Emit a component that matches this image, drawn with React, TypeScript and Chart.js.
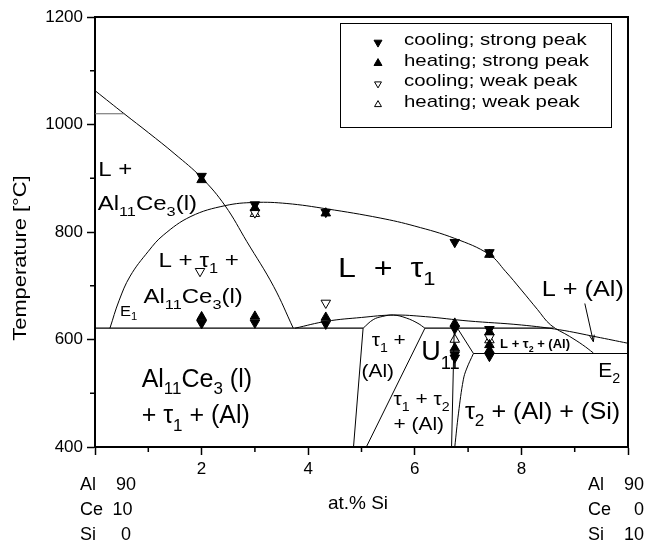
import React, { useEffect, useRef } from "react";
import { Chart, registerables } from "chart.js";

Chart.register(...registerables);

const FONT = '"Liberation Sans", Arial, Helvetica, sans-serif';

// ---------- axes ----------
const xMin = 0;
const xMax = 10;
const yMin = 400;
const yMax = 1200;
const xMajorTicks = [0, 2, 4, 6, 8, 10];
const xTickLabels = [2, 4, 6, 8];
const xMinorTicks = [1, 3, 5, 7, 9];
const yMajorTicks = [400, 600, 800, 1000, 1200];
const yMinorTicks = [500, 700, 900, 1100];

type P = { x: number; y: number };

// ---------- phase boundaries (x = at.% Si, y = T in °C) ----------
const al11ce3Liquidus: P[] = [
  { x: 0, y: 1063 }, { x: 0.56, y: 1019 }, { x: 1.0, y: 985 }, { x: 1.5, y: 945 },
  { x: 2.0, y: 901 }, { x: 2.44, y: 849 }, { x: 2.85, y: 782 }, { x: 3.35, y: 699 },
  { x: 3.72, y: 621 },
];
const upperInvariant: P[] = [{ x: 0, y: 1020 }, { x: 0.56, y: 1020 }];
const tau1Liquidus: P[] = [
  { x: 0.28, y: 621 }, { x: 0.45, y: 672 }, { x: 0.66, y: 718 }, { x: 1.0, y: 764 },
  { x: 1.28, y: 794 }, { x: 1.8, y: 829 }, { x: 2.44, y: 849 }, { x: 3.0, y: 855 },
  { x: 3.6, y: 853 }, { x: 4.35, y: 843 }, { x: 5.35, y: 826 }, { x: 6.0, y: 811 },
  { x: 6.75, y: 788 }, { x: 7.4, y: 758 }, { x: 7.7, y: 727 }, { x: 8.0, y: 692 },
  { x: 8.3, y: 656 }, { x: 8.55, y: 627 }, { x: 8.9, y: 606 }, { x: 9.15, y: 590 },
  { x: 9.35, y: 575 },
];
const e1Line: P[] = [{ x: 0, y: 621 }, { x: 5.03, y: 621 }];
const alLiquidus: P[] = [
  { x: 3.75, y: 621 }, { x: 4.35, y: 634 }, { x: 5.0, y: 641 }, { x: 5.6, y: 645.5 },
  { x: 6.2, y: 642.5 }, { x: 7.0, y: 634.5 }, { x: 8.0, y: 627 }, { x: 8.72, y: 618 },
  { x: 9.4, y: 605 }, { x: 10, y: 593 },
];
const tau1AlArc: P[] = [
  { x: 5.03, y: 621 }, { x: 5.22, y: 637 }, { x: 5.4, y: 643 }, { x: 5.6, y: 645.5 },
  { x: 5.84, y: 640 }, { x: 6.06, y: 630 }, { x: 6.19, y: 621 },
];
const tau1AlLeft: P[] = [{ x: 5.03, y: 621 }, { x: 4.85, y: 400 }];
const tau1AlRight: P[] = [{ x: 6.19, y: 621 }, { x: 5.09, y: 400 }];
const u11Line: P[] = [{ x: 6.19, y: 621 }, { x: 8.6, y: 621 }];
const tau2Vertical: P[] = [{ x: 6.74, y: 621 }, { x: 6.69, y: 400 }];
const tau2Diagonal: P[] = [{ x: 6.8, y: 621 }, { x: 7.1, y: 574 }];
const tau2Solvus: P[] = [
  { x: 7.1, y: 574 }, { x: 6.97, y: 545 }, { x: 6.91, y: 525 }, { x: 6.82, y: 463 },
  { x: 6.75, y: 400 },
];
const e2Line: P[] = [{ x: 7.1, y: 574 }, { x: 10, y: 574 }];

// ---------- DTA signals ----------
const coolingStrong: P[] = [
  { x: 2.0, y: 904 }, { x: 2.0, y: 630 }, { x: 3.0, y: 851 }, { x: 3.0, y: 631 },
  { x: 4.33, y: 837 }, { x: 4.33, y: 629 }, { x: 6.75, y: 781 }, { x: 6.75, y: 620 },
  { x: 6.75, y: 572 }, { x: 6.75, y: 566 }, { x: 7.4, y: 762 }, { x: 7.4, y: 619 },
  { x: 7.4, y: 569 },
];
const heatingStrong: P[] = [
  { x: 2.0, y: 897 }, { x: 2.0, y: 642 }, { x: 3.0, y: 845 }, { x: 3.0, y: 643 },
  { x: 4.33, y: 835 }, { x: 4.33, y: 641 }, { x: 6.75, y: 630 }, { x: 6.75, y: 584 },
  { x: 7.4, y: 758 }, { x: 7.4, y: 614 }, { x: 7.4, y: 590 }, { x: 7.4, y: 580 },
];
const coolingWeak: P[] = [
  { x: 1.97, y: 727 }, { x: 3.0, y: 836 }, { x: 4.33, y: 668 }, { x: 7.4, y: 604 },
];
const heatingWeak: P[] = [
  { x: 2.0, y: 640 }, { x: 3.0, y: 834 }, { x: 6.75, y: 600 }, { x: 7.4, y: 599 },
];

// ---------- texts ----------
const legendLabels = [
  "cooling; strong peak",
  "heating; strong peak",
  "cooling; weak peak",
  "heating; weak peak",
];
const xTitle = "at.% Si";
const yTitle = "Temperature [°C]";
const leftComposition = [["Al", "90"], ["Ce", "10"], ["Si", "0"]];
const rightComposition = [["Al", "90"], ["Ce", "0"], ["Si", "10"]];

// region labels: text (with _{} subscripts), anchor x (at.% Si), baseline T, font size, horizontal stretch
const regionLabels = [
  { text: "L +", x: 0.06, y: 904, size: 20, stretch: 1.2 },
  { text: "Al_{11}Ce_{3}(l)", x: 0.05, y: 841, size: 20, stretch: 1.2 },
  { text: "L + τ_{1} +", x: 1.19, y: 735, size: 21, stretch: 1.15 },
  { text: "Al_{11}Ce_{3}(l)", x: 0.91, y: 667, size: 20, stretch: 1.2 },
  { text: "E_{1}", x: 0.47, y: 644, size: 15, stretch: 1.1 },
  { text: "L  +  τ_{1}", x: 4.56, y: 717, size: 28, stretch: 1.15 },
  { text: "L + (Al)", x: 8.38, y: 681, size: 22, stretch: 1.15 },
  { text: "τ_{1} +", x: 5.19, y: 587, size: 19, stretch: 1.1 },
  { text: "(Al)", x: 5.0, y: 531, size: 19, stretch: 1.1 },
  { text: "U_{11}", x: 6.12, y: 561, size: 27, stretch: 1.0 },
  { text: "τ_{1} + τ_{2}", x: 5.6, y: 478, size: 19, stretch: 1.1 },
  { text: "+ (Al)", x: 5.6, y: 432, size: 19, stretch: 1.1 },
  { text: "τ_{2} + (Al) + (Si)", x: 6.94, y: 453, size: 24, stretch: 1.05 },
  { text: "L + τ_{2} + (Al)", x: 7.6, y: 584, size: 13, stretch: 1.0, bold: true },
  { text: "E_{2}", x: 9.44, y: 531, size: 21, stretch: 1.0 },
  { text: "Al_{11}Ce_{3} (l)", x: 0.875, y: 512, size: 25, stretch: 1.0 },
  { text: "+ τ_{1} + (Al)", x: 0.875, y: 444, size: 25, stretch: 1.0 },
];
const arrowFrom: P = { x: 9.19, y: 667 };
const arrowTo: P = { x: 9.35, y: 596 };

// ---------- helpers ----------
function drawRich(ctx: CanvasRenderingContext2D, text: string, x: number, y: number, size: number, stretch = 1, bold = false) {
  const parts: { t: string; sub: boolean }[] = [];
  const re = /_\{([^}]*)\}/g;
  let last = 0;
  let m: RegExpExecArray | null;
  while ((m = re.exec(text))) {
    if (m.index > last) parts.push({ t: text.slice(last, m.index), sub: false });
    parts.push({ t: m[1], sub: true });
    last = re.lastIndex;
  }
  if (last < text.length) parts.push({ t: text.slice(last), sub: false });
  ctx.save();
  ctx.translate(x, y);
  ctx.scale(stretch, 1);
  ctx.textAlign = "left";
  ctx.textBaseline = "alphabetic";
  ctx.fillStyle = "#000";
  let cx = 0;
  for (const p of parts) {
    const fs = p.sub ? size * 0.68 : size;
    ctx.font = `${bold ? "bold " : ""}${fs}px ${FONT}`;
    ctx.fillText(p.t, cx, p.sub ? size * 0.3 : 0);
    cx += ctx.measureText(p.t).width;
  }
  ctx.restore();
}

function drawTriangle(ctx: CanvasRenderingContext2D, x: number, y: number, r: number, down: boolean, filled: boolean) {
  const s = down ? -1 : 1;
  ctx.beginPath();
  ctx.moveTo(x, y - s * r);
  ctx.lineTo(x + r * Math.sin((2 * Math.PI) / 3), y + s * r * 0.5);
  ctx.lineTo(x - r * Math.sin((2 * Math.PI) / 3), y + s * r * 0.5);
  ctx.closePath();
  ctx.lineWidth = 1;
  ctx.strokeStyle = "#000";
  ctx.fillStyle = filled ? "#000" : "#fff";
  ctx.fill();
  ctx.stroke();
}

const overlay = {
  id: "overlay",
  afterDraw(chart: any) {
    const { ctx, chartArea: a } = chart;
    const sx = chart.scales.x;
    const sy = chart.scales.y;
    ctx.save();
    // frame top/right
    ctx.strokeStyle = "#000";
    ctx.lineWidth = 2;
    ctx.beginPath();
    ctx.moveTo(a.left, a.top);
    ctx.lineTo(a.right, a.top);
    ctx.lineTo(a.right, a.bottom);
    ctx.stroke();
    // minor ticks
    ctx.lineWidth = 1.5;
    ctx.beginPath();
    for (const v of xMinorTicks) {
      const px = sx.getPixelForValue(v);
      ctx.moveTo(px, a.bottom);
      ctx.lineTo(px, a.bottom + 5);
    }
    for (const v of yMinorTicks) {
      const py = sy.getPixelForValue(v);
      ctx.moveTo(a.left - 5, py);
      ctx.lineTo(a.left, py);
    }
    ctx.stroke();

    // region labels
    for (const l of regionLabels) {
      drawRich(ctx, l.text, sx.getPixelForValue(l.x), sy.getPixelForValue(l.y), l.size, l.stretch, (l as any).bold);
    }
    // arrow
    const x1 = sx.getPixelForValue(arrowFrom.x), y1 = sy.getPixelForValue(arrowFrom.y);
    const x2 = sx.getPixelForValue(arrowTo.x), y2 = sy.getPixelForValue(arrowTo.y);
    const ang = Math.atan2(y2 - y1, x2 - x1);
    ctx.lineWidth = 1;
    ctx.beginPath();
    ctx.moveTo(x1, y1);
    ctx.lineTo(x2, y2);
    ctx.moveTo(x2 - 7 * Math.cos(ang - 0.35), y2 - 7 * Math.sin(ang - 0.35));
    ctx.lineTo(x2, y2);
    ctx.lineTo(x2 - 7 * Math.cos(ang + 0.35), y2 - 7 * Math.sin(ang + 0.35));
    ctx.stroke();

    // legend
    const lx = 340.5, ly = 23.5, lw = 271, lh = 104;
    ctx.fillStyle = "#fff";
    ctx.fillRect(lx, ly, lw, lh);
    ctx.strokeStyle = "#000";
    ctx.lineWidth = 1;
    ctx.strokeRect(lx, ly, lw, lh);
    const markerSets = chart.data.datasets.filter((d: any) => d.isMarker);
    markerSets.forEach((d: any, i: number) => {
      const baseY = 45 + i * 20.7;
      drawTriangle(ctx, 378, baseY - 2.5, d.filled ? 4.6 : 4.0, d.pointRotation === 180, d.filled);
      ctx.save();
      ctx.translate(404, baseY);
      ctx.scale(1.2, 1);
      ctx.font = `17px ${FONT}`;
      ctx.fillStyle = "#000";
      ctx.textAlign = "left";
      ctx.textBaseline = "alphabetic";
      ctx.fillText(d.label, 0, 0);
      ctx.restore();
    });

    // axis titles
    ctx.fillStyle = "#000";
    ctx.save();
    ctx.translate(21, 258);
    ctx.rotate(-Math.PI / 2);
    ctx.scale(1.15, 1);
    ctx.font = `19px ${FONT}`;
    ctx.textAlign = "center";
    ctx.textBaseline = "middle";
    ctx.fillText(yTitle, 0, 0);
    ctx.restore();

    ctx.font = `19px ${FONT}`;
    ctx.textAlign = "center";
    ctx.textBaseline = "alphabetic";
    ctx.fillText(xTitle, 358, 509);

    // compositions
    ctx.font = `18px ${FONT}`;
    const rowsY = [490, 515, 540];
    const leftNumRight = [136, 132.5, 131];
    leftComposition.forEach((r, i) => {
      ctx.textAlign = "left";
      ctx.fillText(r[0], 80, rowsY[i]);
      ctx.textAlign = "right";
      ctx.fillText(r[1], leftNumRight[i], rowsY[i]);
    });
    rightComposition.forEach((r, i) => {
      ctx.textAlign = "left";
      ctx.fillText(r[0], 588, rowsY[i]);
      ctx.textAlign = "right";
      ctx.fillText(r[1], 644, rowsY[i]);
    });
    ctx.restore();
  },
};

function lineDs(data: P[], tension = 0, color = "#000", width = 1) {
  return {
    type: "line" as const,
    data,
    showLine: true,
    borderColor: color,
    borderWidth: width,
    pointRadius: 0,
    pointHoverRadius: 0,
    tension,
    fill: false,
  };
}

function markerDs(label: string, data: P[], down: boolean, filled: boolean) {
  return {
    type: "scatter" as const,
    label,
    data,
    isMarker: true,
    filled,
    pointStyle: "triangle",
    pointRotation: down ? 180 : 0,
    pointRadius: 5.5,
    pointBorderWidth: 1,
    pointBorderColor: "#000",
    pointBackgroundColor: filled ? "#000" : "#fff",
    showLine: false,
  };
}

export default function App() {
  const ref = useRef<HTMLCanvasElement>(null);
  useEffect(() => {
    if (!ref.current) return;
    const datasets: any[] = [
      lineDs(upperInvariant, 0, "#666"),
      lineDs(al11ce3Liquidus, 0.4),
      lineDs(tau1Liquidus, 0.4),
      lineDs(e1Line, 0, "#000", 1.2),
      lineDs(alLiquidus, 0.4),
      lineDs(tau1AlArc, 0.4),
      lineDs(tau1AlLeft),
      lineDs(tau1AlRight),
      lineDs(u11Line, 0, "#000", 1.2),
      lineDs(tau2Vertical),
      lineDs(tau2Diagonal),
      lineDs(tau2Solvus, 0.4),
      lineDs(e2Line, 0, "#000", 1.2),
      markerDs(legendLabels[0], coolingStrong, true, true),
      markerDs(legendLabels[1], heatingStrong, false, true),
      markerDs(legendLabels[2], coolingWeak, true, false),
      markerDs(legendLabels[3], heatingWeak, false, false),
    ];
    const tickFont = { family: FONT, size: 17 };
    const chart = new Chart(ref.current, {
      type: "scatter",
      data: { datasets },
      options: {
        animation: false,
        responsive: false,
        devicePixelRatio: 1,
        layout: { padding: { top: 17, right: 20, left: 0, bottom: 0 } },
        plugins: { legend: { display: false }, tooltip: { enabled: false } },
        scales: {
          x: {
            type: "linear",
            min: xMin,
            max: xMax,
            afterBuildTicks: (s: any) => {
              s.ticks = xMajorTicks.map((v) => ({ value: v }));
            },
            afterFit: (s: any) => {
              s.height = 97;
            },
            ticks: {
              autoSkip: false,
              maxRotation: 0,
              padding: 4,
              color: "#000",
              font: tickFont,
              callback: (v: any) => (xTickLabels.includes(Number(v)) ? String(v) : ""),
            },
            grid: { display: true, drawOnChartArea: false, drawTicks: true, tickLength: 8, tickWidth: 1.5, tickColor: "#000" },
            border: { display: true, color: "#000", width: 2 },
          },
          y: {
            type: "linear",
            min: yMin,
            max: yMax,
            afterBuildTicks: (s: any) => {
              s.ticks = yMajorTicks.map((v) => ({ value: v }));
            },
            afterFit: (s: any) => {
              s.width = 95;
            },
            ticks: {
              autoSkip: false,
              padding: 4,
              color: "#000",
              font: tickFont,
              callback: (v: any) => String(v),
            },
            grid: { display: true, drawOnChartArea: false, drawTicks: true, tickLength: 8, tickWidth: 1.5, tickColor: "#000" },
            border: { display: true, color: "#000", width: 2 },
          },
        },
      } as any,
      plugins: [overlay],
    });
    return () => chart.destroy();
  }, []);
  return (
    <div style={{ position: "fixed", left: 0, top: 0, width: 648, height: 544, background: "#fff" }}>
      <canvas ref={ref} width={648} height={544} style={{ display: "block" }} />
    </div>
  );
}
